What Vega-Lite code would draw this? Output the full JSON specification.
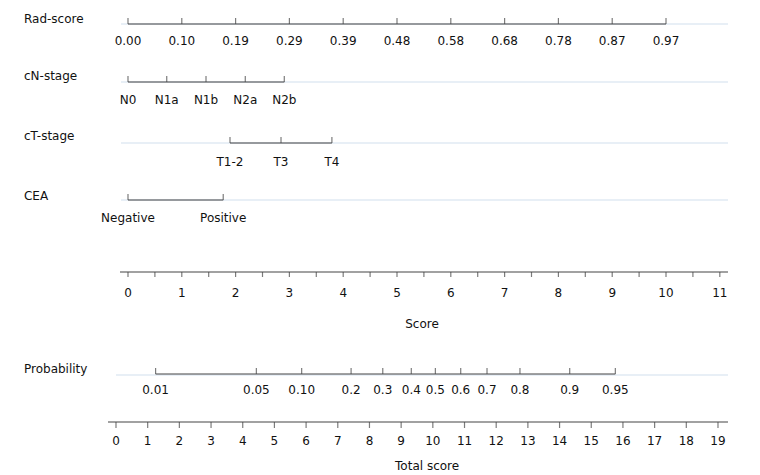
{
  "$schema": "https://vega.github.io/schema/vega-lite/v6.json",
  "padding": 0,
  "spacing": 0,
  "bounds": "flush",
  "config": {
    "view": {"stroke": null},
    "font": "DejaVu Sans",
    "text": {"fontSize": 12, "color": "#111111", "font": "DejaVu Sans"}
  },
  "datasets": {
    "rad": [
      {"p": 0, "label": "0.00"}, {"p": 1, "label": "0.10"}, {"p": 2, "label": "0.19"},
      {"p": 3, "label": "0.29"}, {"p": 4, "label": "0.39"}, {"p": 5, "label": "0.48"},
      {"p": 6, "label": "0.58"}, {"p": 7, "label": "0.68"}, {"p": 8, "label": "0.78"},
      {"p": 9, "label": "0.87"}, {"p": 10, "label": "0.97"}
    ],
    "cn": [
      {"p": 0, "label": "N0"}, {"p": 0.72, "label": "N1a"}, {"p": 1.45, "label": "N1b"},
      {"p": 2.18, "label": "N2a"}, {"p": 2.905, "label": "N2b"}
    ],
    "ct": [
      {"p": 1.896, "label": "T1-2"}, {"p": 2.844, "label": "T3"}, {"p": 3.79, "label": "T4"}
    ],
    "cea": [
      {"p": 0, "label": "Negative"}, {"p": 1.77, "label": "Positive"}
    ],
    "score": [
      {"p": 0, "label": "0"}, {"p": 0.5, "label": ""}, {"p": 1, "label": "1"}, {"p": 1.5, "label": ""},
      {"p": 2, "label": "2"}, {"p": 2.5, "label": ""}, {"p": 3, "label": "3"}, {"p": 3.5, "label": ""},
      {"p": 4, "label": "4"}, {"p": 4.5, "label": ""}, {"p": 5, "label": "5"}, {"p": 5.5, "label": ""},
      {"p": 6, "label": "6"}, {"p": 6.5, "label": ""}, {"p": 7, "label": "7"}, {"p": 7.5, "label": ""},
      {"p": 8, "label": "8"}, {"p": 8.5, "label": ""}, {"p": 9, "label": "9"}, {"p": 9.5, "label": ""},
      {"p": 10, "label": "10"}, {"p": 10.5, "label": ""}, {"p": 11, "label": "11"}
    ],
    "prob": [
      {"t": 1.25, "label": "0.01"}, {"t": 4.43, "label": "0.05"}, {"t": 5.86, "label": "0.10"},
      {"t": 7.42, "label": "0.2"}, {"t": 8.42, "label": "0.3"}, {"t": 9.32, "label": "0.4"},
      {"t": 10.08, "label": "0.5"}, {"t": 10.88, "label": "0.6"}, {"t": 11.71, "label": "0.7"},
      {"t": 12.75, "label": "0.8"}, {"t": 14.32, "label": "0.9"}, {"t": 15.76, "label": "0.95"}
    ],
    "total": [
      {"t": 0, "label": "0"}, {"t": 1, "label": "1"}, {"t": 2, "label": "2"}, {"t": 3, "label": "3"},
      {"t": 4, "label": "4"}, {"t": 5, "label": "5"}, {"t": 6, "label": "6"}, {"t": 7, "label": "7"},
      {"t": 8, "label": "8"}, {"t": 9, "label": "9"}, {"t": 10, "label": "10"}, {"t": 11, "label": "11"},
      {"t": 12, "label": "12"}, {"t": 13, "label": "13"}, {"t": 14, "label": "14"}, {"t": 15, "label": "15"},
      {"t": 16, "label": "16"}, {"t": 17, "label": "17"}, {"t": 18, "label": "18"}, {"t": 19, "label": "19"}
    ]
  },
  "vconcat": [
    {
      "width": 760, "height": 24,
      "layer": [
        {"data": {"values": [{}]}, "mark": {"type": "rule", "color": "#e8eff6", "strokeWidth": 2},
         "encoding": {"x": {"datum": -0.13, "type": "quantitative", "scale": {"domain": [-2.379, 11.747], "nice": false, "zero": false}, "axis": null}, "x2": {"datum": 11.152}, "y": {"value": "height"}}},
        {"data": {"name": "rad"}, "mark": {"type": "rule", "color": "#444444", "strokeWidth": 1.2},
         "encoding": {"x": {"aggregate": "min", "field": "p", "type": "quantitative", "scale": {"domain": [-2.379, 11.747], "nice": false, "zero": false}, "axis": null}, "x2": {"aggregate": "max", "field": "p"}, "y": {"value": "height"}}},
        {"data": {"name": "rad"}, "mark": {"type": "tick", "orient": "vertical", "size": 6, "thickness": 1.2, "yOffset": -3, "color": "#444444"},
         "encoding": {"x": {"field": "p", "type": "quantitative", "scale": {"domain": [-2.379, 11.747], "nice": false, "zero": false}, "axis": null}, "y": {"value": "height"}}},
        {"data": {"name": "rad"}, "mark": {"type": "text", "baseline": "alphabetic", "dy": 21},
         "encoding": {"x": {"field": "p", "type": "quantitative", "scale": {"domain": [-2.379, 11.747], "nice": false, "zero": false}, "axis": null}, "y": {"value": "height"}, "text": {"field": "label"}}},
        {"data": {"values": [{}]}, "mark": {"type": "text", "baseline": "alphabetic", "align": "left", "dy": -1},
         "encoding": {"x": {"datum": -1.933, "type": "quantitative", "scale": {"domain": [-2.379, 11.747], "nice": false, "zero": false}, "axis": null}, "y": {"value": "height"}, "text": {"value": "Rad-score"}}}
      ]
    },
    {
      "width": 760, "height": 58,
      "layer": [
        {"data": {"values": [{}]}, "mark": {"type": "rule", "color": "#e8eff6", "strokeWidth": 2},
         "encoding": {"x": {"datum": -0.13, "type": "quantitative", "scale": {"domain": [-2.379, 11.747], "nice": false, "zero": false}, "axis": null}, "x2": {"datum": 11.152}, "y": {"value": "height"}}},
        {"data": {"name": "cn"}, "mark": {"type": "rule", "color": "#444444", "strokeWidth": 1.2},
         "encoding": {"x": {"aggregate": "min", "field": "p", "type": "quantitative", "scale": {"domain": [-2.379, 11.747], "nice": false, "zero": false}, "axis": null}, "x2": {"aggregate": "max", "field": "p"}, "y": {"value": "height"}}},
        {"data": {"name": "cn"}, "mark": {"type": "tick", "orient": "vertical", "size": 6, "thickness": 1.2, "yOffset": -3, "color": "#444444"},
         "encoding": {"x": {"field": "p", "type": "quantitative", "scale": {"domain": [-2.379, 11.747], "nice": false, "zero": false}, "axis": null}, "y": {"value": "height"}}},
        {"data": {"name": "cn"}, "mark": {"type": "text", "baseline": "alphabetic", "dy": 22},
         "encoding": {"x": {"field": "p", "type": "quantitative", "scale": {"domain": [-2.379, 11.747], "nice": false, "zero": false}, "axis": null}, "y": {"value": "height"}, "text": {"field": "label"}}},
        {"data": {"values": [{}]}, "mark": {"type": "text", "baseline": "alphabetic", "align": "left", "dy": -2},
         "encoding": {"x": {"datum": -1.933, "type": "quantitative", "scale": {"domain": [-2.379, 11.747], "nice": false, "zero": false}, "axis": null}, "y": {"value": "height"}, "text": {"value": "cN-stage"}}}
      ]
    },
    {
      "width": 760, "height": 61,
      "layer": [
        {"data": {"values": [{}]}, "mark": {"type": "rule", "color": "#e8eff6", "strokeWidth": 2},
         "encoding": {"x": {"datum": -0.13, "type": "quantitative", "scale": {"domain": [-2.379, 11.747], "nice": false, "zero": false}, "axis": null}, "x2": {"datum": 11.152}, "y": {"value": "height"}}},
        {"data": {"name": "ct"}, "mark": {"type": "rule", "color": "#444444", "strokeWidth": 1.2},
         "encoding": {"x": {"aggregate": "min", "field": "p", "type": "quantitative", "scale": {"domain": [-2.379, 11.747], "nice": false, "zero": false}, "axis": null}, "x2": {"aggregate": "max", "field": "p"}, "y": {"value": "height"}}},
        {"data": {"name": "ct"}, "mark": {"type": "tick", "orient": "vertical", "size": 6, "thickness": 1.2, "yOffset": -3, "color": "#444444"},
         "encoding": {"x": {"field": "p", "type": "quantitative", "scale": {"domain": [-2.379, 11.747], "nice": false, "zero": false}, "axis": null}, "y": {"value": "height"}}},
        {"data": {"name": "ct"}, "mark": {"type": "text", "baseline": "alphabetic", "dy": 23},
         "encoding": {"x": {"field": "p", "type": "quantitative", "scale": {"domain": [-2.379, 11.747], "nice": false, "zero": false}, "axis": null}, "y": {"value": "height"}, "text": {"field": "label"}}},
        {"data": {"values": [{}]}, "mark": {"type": "text", "baseline": "alphabetic", "align": "left", "dy": -3},
         "encoding": {"x": {"datum": -1.933, "type": "quantitative", "scale": {"domain": [-2.379, 11.747], "nice": false, "zero": false}, "axis": null}, "y": {"value": "height"}, "text": {"value": "cT-stage"}}}
      ]
    },
    {
      "width": 760, "height": 57,
      "layer": [
        {"data": {"values": [{}]}, "mark": {"type": "rule", "color": "#e8eff6", "strokeWidth": 2},
         "encoding": {"x": {"datum": -0.13, "type": "quantitative", "scale": {"domain": [-2.379, 11.747], "nice": false, "zero": false}, "axis": null}, "x2": {"datum": 11.152}, "y": {"value": "height"}}},
        {"data": {"name": "cea"}, "mark": {"type": "rule", "color": "#444444", "strokeWidth": 1.2},
         "encoding": {"x": {"aggregate": "min", "field": "p", "type": "quantitative", "scale": {"domain": [-2.379, 11.747], "nice": false, "zero": false}, "axis": null}, "x2": {"aggregate": "max", "field": "p"}, "y": {"value": "height"}}},
        {"data": {"name": "cea"}, "mark": {"type": "tick", "orient": "vertical", "size": 6, "thickness": 1.2, "yOffset": -3, "color": "#444444"},
         "encoding": {"x": {"field": "p", "type": "quantitative", "scale": {"domain": [-2.379, 11.747], "nice": false, "zero": false}, "axis": null}, "y": {"value": "height"}}},
        {"data": {"name": "cea"}, "mark": {"type": "text", "baseline": "alphabetic", "dy": 22},
         "encoding": {"x": {"field": "p", "type": "quantitative", "scale": {"domain": [-2.379, 11.747], "nice": false, "zero": false}, "axis": null}, "y": {"value": "height"}, "text": {"field": "label"}}},
        {"data": {"values": [{}]}, "mark": {"type": "text", "baseline": "alphabetic", "align": "left", "dy": 0},
         "encoding": {"x": {"datum": -1.933, "type": "quantitative", "scale": {"domain": [-2.379, 11.747], "nice": false, "zero": false}, "axis": null}, "y": {"value": "height"}, "text": {"value": "CEA"}}}
      ]
    },
    {
      "width": 760, "height": 72,
      "layer": [
        {"data": {"values": [{}]}, "mark": {"type": "rule", "color": "#444444", "strokeWidth": 1.2},
         "encoding": {"x": {"datum": -0.149, "type": "quantitative", "scale": {"domain": [-2.379, 11.747], "nice": false, "zero": false}, "axis": null}, "x2": {"datum": 11.152}, "y": {"value": "height"}}},
        {"data": {"name": "score"}, "mark": {"type": "tick", "orient": "vertical", "size": 5, "thickness": 1.2, "yOffset": 2.5, "color": "#444444"},
         "encoding": {"x": {"field": "p", "type": "quantitative", "scale": {"domain": [-2.379, 11.747], "nice": false, "zero": false}, "axis": null}, "y": {"value": "height"}}},
        {"data": {"name": "score"}, "mark": {"type": "text", "baseline": "alphabetic", "dy": 25},
         "encoding": {"x": {"field": "p", "type": "quantitative", "scale": {"domain": [-2.379, 11.747], "nice": false, "zero": false}, "axis": null}, "y": {"value": "height"}, "text": {"field": "label"}}},
        {"data": {"values": [{}]}, "mark": {"type": "text", "baseline": "alphabetic", "dy": 56},
         "encoding": {"x": {"datum": 5.465, "type": "quantitative", "scale": {"domain": [-2.379, 11.747], "nice": false, "zero": false}, "axis": null}, "y": {"value": "height"}, "text": {"value": "Score"}}}
      ]
    },
    {
      "width": 760, "height": 102,
      "layer": [
        {"data": {"values": [{}]}, "mark": {"type": "rule", "color": "#e8eff6", "strokeWidth": 2, "yOffset": 1},
         "encoding": {"x": {"datum": 0, "type": "quantitative", "scale": {"domain": [-3.661, 20.326], "nice": false, "zero": false}, "axis": null}, "x2": {"datum": 19.316}, "y": {"value": "height"}}},
        {"data": {"name": "prob"}, "mark": {"type": "rule", "color": "#444444", "strokeWidth": 1.2},
         "encoding": {"x": {"aggregate": "min", "field": "t", "type": "quantitative", "scale": {"domain": [-3.661, 20.326], "nice": false, "zero": false}, "axis": null}, "x2": {"aggregate": "max", "field": "t"}, "y": {"value": "height"}}},
        {"data": {"name": "prob"}, "mark": {"type": "tick", "orient": "vertical", "size": 6, "thickness": 1.2, "yOffset": -3, "color": "#444444"},
         "encoding": {"x": {"field": "t", "type": "quantitative", "scale": {"domain": [-3.661, 20.326], "nice": false, "zero": false}, "axis": null}, "y": {"value": "height"}}},
        {"data": {"name": "prob"}, "mark": {"type": "text", "baseline": "alphabetic", "dy": 20},
         "encoding": {"x": {"field": "t", "type": "quantitative", "scale": {"domain": [-3.661, 20.326], "nice": false, "zero": false}, "axis": null}, "y": {"value": "height"}, "text": {"field": "label"}}},
        {"data": {"values": [{}]}, "mark": {"type": "text", "baseline": "alphabetic", "align": "left", "dy": -1},
         "encoding": {"x": {"datum": -2.904, "type": "quantitative", "scale": {"domain": [-3.661, 20.326], "nice": false, "zero": false}, "axis": null}, "y": {"value": "height"}, "text": {"value": "Probability"}}}
      ]
    },
    {
      "width": 760, "height": 48,
      "layer": [
        {"data": {"values": [{}]}, "mark": {"type": "rule", "color": "#444444", "strokeWidth": 1.2},
         "encoding": {"x": {"datum": -0.2525, "type": "quantitative", "scale": {"domain": [-3.661, 20.326], "nice": false, "zero": false}, "axis": null}, "x2": {"datum": 19.316}, "y": {"value": "height"}}},
        {"data": {"name": "total"}, "mark": {"type": "tick", "orient": "vertical", "size": 6, "thickness": 1.2, "yOffset": 3, "color": "#444444"},
         "encoding": {"x": {"field": "t", "type": "quantitative", "scale": {"domain": [-3.661, 20.326], "nice": false, "zero": false}, "axis": null}, "y": {"value": "height"}}},
        {"data": {"name": "total"}, "mark": {"type": "text", "baseline": "alphabetic", "dy": 23},
         "encoding": {"x": {"field": "t", "type": "quantitative", "scale": {"domain": [-3.661, 20.326], "nice": false, "zero": false}, "axis": null}, "y": {"value": "height"}, "text": {"field": "label"}}},
        {"data": {"values": [{}]}, "mark": {"type": "text", "baseline": "alphabetic", "dy": 48},
         "encoding": {"x": {"datum": 9.82, "type": "quantitative", "scale": {"domain": [-3.661, 20.326], "nice": false, "zero": false}, "axis": null}, "y": {"value": "height"}, "text": {"value": "Total score"}}}
      ]
    }
  ]
}
